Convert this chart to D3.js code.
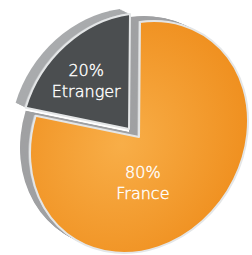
<!DOCTYPE html>
<html>
<head>
<meta charset="utf-8">
<script src="https://cdn.jsdelivr.net/npm/d3@7"></script>
<style>
  html, body { margin: 0; padding: 0; background: #fff; }
  svg { display: block; }
</style>
</head>
<body>
<div id="chart"></div>
<script>
// data
const categories = ["France", "Etranger"];
const shares = [80, 20];
const shareLabels = ["80%", "20%"];

const W = 252, H = 255;
const R = 100;                      // local radius, squeezed by the tilt matrix
const center = { x: 139, y: 137 };
const tilt = [1.09, -0.15, -0.01, 1.15]; // fake 3d look
const depth = { x: -10, y: -5 };
const explode = [{ x: 0, y: 0 }, { x: -10, y: -8 }];
const faceColors = ["url(#orangeGrad)", "#4b4e50"];
// label spot in local coords (angle in rad from 12 o'clock, radius fraction)
const labelSpot = [{ a: Math.PI * 0.97, k: 0.42 }, { a: -Math.PI * 0.23, k: 0.6 }];

let svg = d3.select("#chart").append("svg")
  .attr("width", W)
  .attr("height", H);

let defs = svg.append("defs");
let grad = defs.append("radialGradient")
  .attr("id", "orangeGrad")
  .attr("cx", "42%").attr("cy", "52%").attr("r", "62%");
grad.append("stop").attr("offset", "0%").attr("stop-color", "#f8ae48");
grad.append("stop").attr("offset", "100%").attr("stop-color", "#ef8e1d");

let pie = d3.pie().sort(null).value(d => d)(shares);
let arc = d3.arc().innerRadius(0).outerRadius(R);

let mtx = (x, y) => `translate(${x},${y}) matrix(${tilt.join(",")},0,0)`;
let project = (px, py) => [tilt[0] * px + tilt[2] * py, tilt[1] * px + tilt[3] * py];

pie.forEach((p, i) => {
  let ox = center.x + explode[i].x;
  let oy = center.y + explode[i].y;
  let g = svg.append("g").attr("class", "slice-" + categories[i]);

  // side / extrusion
  let steps = 12;
  for (let s = steps; s >= 1; s--) {
    let t = s / steps;
    g.append("path")
      .attr("d", arc(p))
      .attr("transform", mtx(ox + depth.x * t, oy + depth.y * t))
      .attr("fill", s <= 2 ? "#c4c6c8" : (i === 1 ? "#a9abad" : "#a0a1a3"));
  }

  // front face
  g.append("path")
    .attr("d", arc(p))
    .attr("transform", mtx(ox, oy))
    .attr("fill", faceColors[i])
    .attr("stroke", "#e4e6e7")
    .attr("stroke-width", 2)
    .attr("stroke-linejoin", "round")
    .attr("vector-effect", "non-scaling-stroke");

  // label
  let lp = labelSpot[i];
  let [lx, ly] = project(Math.sin(lp.a) * R * lp.k, -Math.cos(lp.a) * R * lp.k);
  let txt = g.append("text")
    .attr("x", ox + lx)
    .attr("y", oy + ly)
    .attr("text-anchor", "middle")
    .attr("fill", "#ffffff")
    .attr("stroke", "#ffffff")
    .attr("stroke-width", 0.4)
    .attr("font-family", "'DejaVu Sans', sans-serif")
    .attr("font-weight", 200)
    .attr("font-size", 16);
  txt.append("tspan").attr("x", ox + lx).attr("dy", "-0.42em").text(shareLabels[i]);
  txt.append("tspan").attr("x", ox + lx).attr("dy", "1.3em").text(categories[i]);
});
</script>
</body>
</html>
